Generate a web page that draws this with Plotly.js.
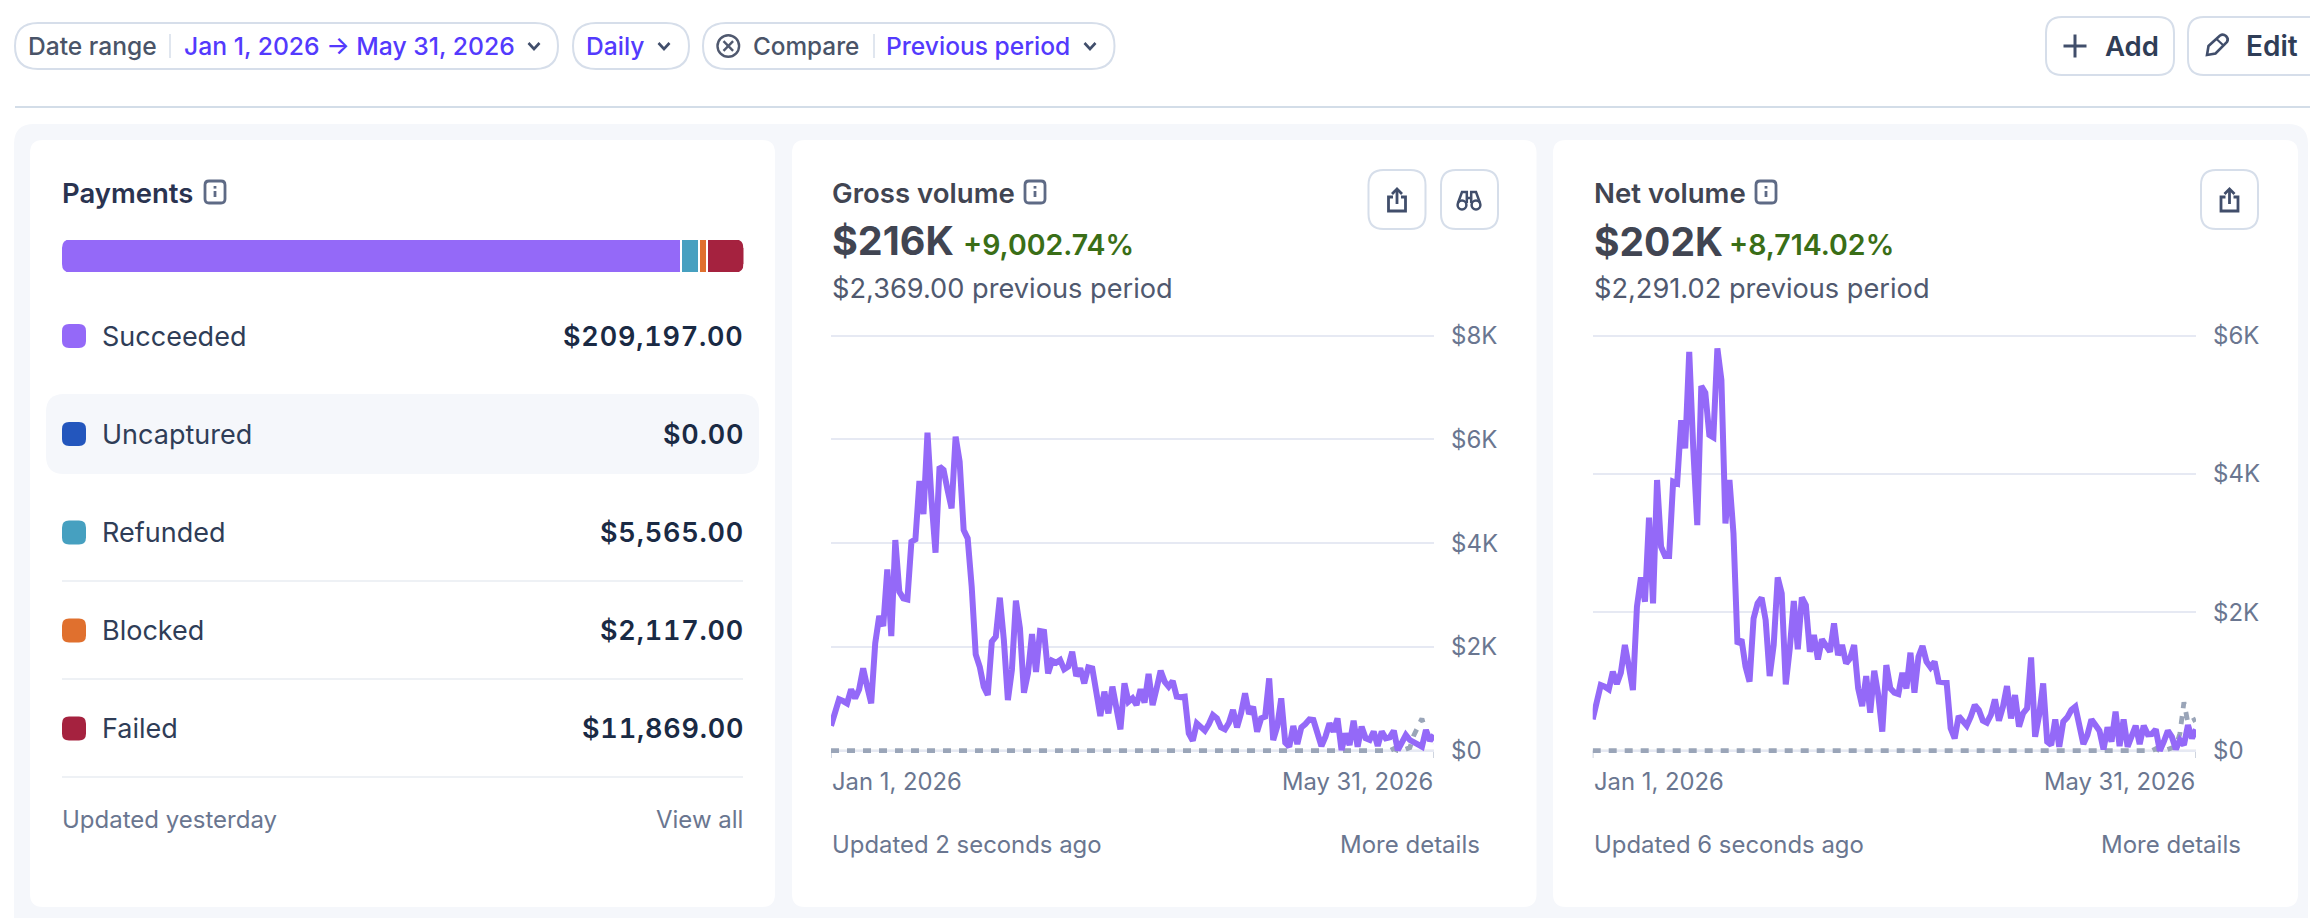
<!DOCTYPE html>
<html>
<head>
<meta charset="utf-8">
<script src="https://cdn.plot.ly/plotly-3.0.1.min.js"></script>
<style>html,body{margin:0;padding:0;background:#fff;overflow:hidden}#chart{width:2310px;height:918px}</style>
</head>
<body>
<div id="chart"></div>
<script>
// ---- data ----
const paymentStatuses = ['Succeeded', 'Uncaptured', 'Refunded', 'Blocked', 'Failed'];
const paymentValues = [209197, 0, 5565, 2117, 11869];
const paymentLabels = ['$209,197.00', '$0.00', '$5,565.00', '$2,117.00', '$11,869.00'];
const paymentColors = ['#9469f8', '#2356bd', '#46a0c0', '#e0702e', '#a5223f'];

const grossCurrent = [
  480,720,990,957,912,1182,1009,1182,1587,1234,
  912,2069,2596,2403,3496,2210,4061,3065,2937,2917,
  4029,4074,5199,4562,6130,4832,3817,5475,5411,5025,
  4672,6053,5571,4254,4093,3161,1857,1619,1234,1073,
  2101,2198,2950,2133,977,1555,2892,2358,1118,1491,
  2249,1517,2307,2294,1491,1735,1696,1748,1568,1619,
  1909,1439,1587,1298,1607,1587,1041,668,1138,720,
  1235,836,412,1299,945,1010,881,1183,926,1479,
  881,1202,1543,1331,1235,1344,1042,1029,1042,334,
  193,527,450,386,514,688,624,450,412,540,
  784,450,720,1106,707,849,367,624,656,1395,
  206,463,1010,154,77,476,129,450,514,604,
  592,334,90,270,527,367,624,13,334,109,
  579,77,463,238,206,367,90,367,238,257,
  386,10,141,302,206,161,141,77,399,193,
  302
];
const grossPrevious = [
  0,0,0,0,0,0,0,0,0,0, 0,0,0,0,0,0,0,0,0,0,
  0,0,0,0,0,0,0,0,0,0, 0,0,0,0,0,0,0,0,0,0,
  0,0,0,0,0,0,0,0,0,0, 0,0,0,0,0,0,0,0,0,0,
  0,0,0,0,0,0,0,0,0,0, 0,0,0,0,0,0,0,0,0,0,
  0,0,0,0,0,0,0,0,0,0, 0,0,0,0,0,0,0,0,0,0,
  0,0,0,0,0,0,0,0,0,0, 0,0,0,0,0,0,0,0,0,0,
  0,0,0,0,0,0,0,0,0,0, 0,0,0,0,0,0,0,0,0,0,
  40,0,0,30,60,300,450,620,350,200,150
];
const netCurrent = [
  453,684,949,925,887,1142,964,1128,1528,1214,
  877,2082,2506,2154,3368,2130,3913,2949,2814,2814,
  3889,3865,4780,4371,5768,4371,3262,5272,5176,4564,
  4530,5816,5359,3287,3913,3142,1542,1610,1214,998,
  1913,2130,2212,1889,1079,1528,2506,2275,959,1479,
  2164,1465,2217,2106,1431,1672,1320,1610,1528,1431,
  1841,1383,1528,1263,1335,1528,901,646,1079,549,
  1157,805,275,1238,901,839,819,1128,901,1417,
  839,1359,1513,1287,1205,1287,998,983,983,323,
  178,501,419,361,492,660,588,434,405,516,
  742,434,636,935,467,805,347,540,612,1349,
  202,516,973,130,82,453,58,419,482,588,
  636,323,96,226,453,371,289,19,337,130,
  564,67,453,58,226,361,96,361,236,241,
  308,0,130,289,202,19,154,82,371,178,
  308
];
const netPrevious = [
  0,0,0,0,0,0,0,0,0,0, 0,0,0,0,0,0,0,0,0,0,
  0,0,0,0,0,0,0,0,0,0, 0,0,0,0,0,0,0,0,0,0,
  0,0,0,0,0,0,0,0,0,0, 0,0,0,0,0,0,0,0,0,0,
  0,0,0,0,0,0,0,0,0,0, 0,0,0,0,0,0,0,0,0,0,
  0,0,0,0,0,0,0,0,0,0, 0,0,0,0,0,0,0,0,0,0,
  0,0,0,0,0,0,0,0,0,0, 0,0,0,0,0,0,0,0,0,0,
  0,0,0,0,0,0,0,0,0,0, 0,0,0,0,0,0,0,0,0,0,
  30,0,0,20,40,60,250,700,400,430,460
];
const grossTickVals = [0, 2000, 4000, 6000, 8000];
const grossTickText = ['$0', '$2K', '$4K', '$6K', '$8K'];
const netTickVals = [0, 2000, 4000, 6000];
const netTickText = ['$0', '$2K', '$4K', '$6K'];
const firstDay = '2026-01-01';
const lastDay = '2026-05-31';
const firstDayLabel = 'Jan 1, 2026';
const lastDayLabel = 'May 31, 2026';

// one label per day from the first to the last day of the range
const days = [];
for (let d = new Date(firstDay + 'T00:00:00Z'); d <= new Date(lastDay + 'T00:00:00Z'); d = new Date(d.getTime() + 864e5)) {
  days.push(d.toISOString().slice(0, 10));
}

// ---- page helpers (pixels to paper) ----
const W = 2310, H = 918;
const FONT = 'Inter, "Liberation Sans", sans-serif';
const px = v => v / W, py = v => 1 - v / H;
const annotations = [], shapes = [];

function label(text, x, y, size, color, weight, anchor) {
  annotations.push({text, x: px(anchor ? x : x - 1.5), y: py(y), xref: 'paper', yref: 'paper', showarrow: false,
    xanchor: anchor || 'left', yanchor: 'middle', borderpad: 0,
    font: {family: FONT, size, color, weight: weight || 400}});
}
function path(cmds, o) {
  const d = cmds.map(c => c[0] + c.slice(1).map((v, i) => (i % 2 ? py(v) : px(v)).toFixed(6)).join(',')).join(' ');
  shapes.push({type: 'path', path: d, xref: 'paper', yref: 'paper', layer: o.layer || 'below',
    fillcolor: o.fill || 'rgba(0,0,0,0)',
    line: {color: o.stroke || 'rgba(0,0,0,0)', width: o.stroke ? (o.width || 2) : 0}});
}
function rrect(x0, y0, x1, y1, r, o) {
  path([['M', x0 + r, y0], ['L', x1 - r, y0], ['Q', x1, y0, x1, y0 + r], ['L', x1, y1 - r], ['Q', x1, y1, x1 - r, y1],
    ['L', x0 + r, y1], ['Q', x0, y1, x0, y1 - r], ['L', x0, y0 + r], ['Q', x0, y0, x0 + r, y0], ['Z']], o);
}
function circle(cx, cy, r, o) {
  const k = r * 0.5523;
  path([['M', cx + r, cy], ['C', cx + r, cy + k, cx + k, cy + r, cx, cy + r], ['C', cx - k, cy + r, cx - r, cy + k, cx - r, cy],
    ['C', cx - r, cy - k, cx - k, cy - r, cx, cy - r], ['C', cx + k, cy - r, cx + r, cy - k, cx + r, cy], ['Z']], o);
}
function line(x0, y0, x1, y1, color, width) {
  shapes.push({type: 'line', x0: px(x0), x1: px(x1), y0: py(y0), y1: py(y1), xref: 'paper', yref: 'paper', layer: 'below',
    line: {color, width}});
}
const ICON = '#414e6b', BORDER = '#d6deea', INK = '#414552', MUTED = '#6a7690', BLUE = '#533afd', GREEN = '#3a6e17';

function chevron(cx, cy) {
  path([['M', cx - 5.5, cy - 3], ['L', cx, cy + 3], ['L', cx + 5.5, cy - 3]], {stroke: ICON, width: 2.6});
}
function infoIcon(cx, cy) {
  rrect(cx - 10, cy - 11, cx + 10, cy + 11, 4, {stroke: '#5e6a85', width: 2.8});
  line(cx, cy - 1, cx, cy + 5, '#5e6a85', 2.8);
  line(cx, cy - 6, cx, cy - 3.4, '#5e6a85', 2.8);
}
function shareIcon(bx) {
  rrect(bx, 170, bx + 57, 229, 15, {stroke: BORDER, width: 2, fill: '#fff'});
  const c = bx + 28.5;
  path([['M', c - 4, 197], ['L', c - 8.5, 197], ['L', c - 8.5, 211], ['L', c + 8.5, 211], ['L', c + 8.5, 197], ['L', c + 4, 197]], {stroke: ICON, width: 2.8});
  line(c, 204, c, 189, ICON, 2.8);
  path([['M', c - 5, 194], ['L', c, 189], ['L', c + 5, 194]], {stroke: ICON, width: 2.8});
}
function binocularsIcon(bx) {
  rrect(bx, 170, bx + 57, 229, 15, {stroke: BORDER, width: 2, fill: '#fff'});
  const c = bx + 28;
  circle(c - 7, 205, 4.4, {stroke: ICON, width: 2.5});
  circle(c + 7, 205, 4.4, {stroke: ICON, width: 2.5});
  path([['M', c - 11, 203], ['L', c - 7, 192], ['L', c - 2.2, 192], ['L', c - 2.2, 203]], {stroke: ICON, width: 2.5});
  path([['M', c + 11, 203], ['L', c + 7, 192], ['L', c + 2.2, 192], ['L', c + 2.2, 203]], {stroke: ICON, width: 2.5});
  line(c - 2.2, 198, c + 2.2, 198, ICON, 2.5);
}

// ---- page frame ----
path([['M', 14, 918], ['L', 14, 144], ['Q', 14, 124, 34, 124], ['L', 2288, 124], ['Q', 2308, 124, 2308, 144], ['L', 2308, 918], ['Z']], {fill: '#f5f7fb'});
rrect(30, 140, 775, 907, 13, {fill: '#fff'});
rrect(792, 140, 1536.5, 907, 13, {fill: '#fff'});
rrect(1553, 140, 2298, 907, 13, {fill: '#fff'});
line(15, 107, 2310, 107, '#d3dde8', 2);

// filter pills
rrect(15, 23, 558, 69, 23, {stroke: BORDER, width: 2, fill: '#fff'});
rrect(573, 23, 689, 69, 23, {stroke: BORDER, width: 2, fill: '#fff'});
rrect(703, 23, 1114.5, 69, 23, {stroke: BORDER, width: 2, fill: '#fff'});
label('Date range', 28, 46, 24.6, '#4a5468', 500);
line(170, 34, 170, 58, BORDER, 1.5);
label('Jan 1, 2026 → May 31, 2026', 184, 46, 24.7, BLUE, 500);
chevron(534, 46);
label('Daily', 586, 46, 24.6, BLUE, 500);
chevron(664, 46);
circle(728.3, 46, 10.8, {stroke: '#50596f', width: 2.4});
line(723.5, 41.2, 733.1, 50.8, '#50596f', 2.4);
line(733.1, 41.2, 723.5, 50.8, '#50596f', 2.4);
label('Compare', 753, 46, 24.3, '#4a5468', 500);
line(874, 34, 874, 58, BORDER, 1.5);
label('Previous period', 886, 46, 24.6, BLUE, 500);
chevron(1090, 46);

// top right buttons
rrect(2046, 17, 2174, 75, 16, {stroke: BORDER, width: 2, fill: '#fff'});
line(2063.5, 46, 2086.5, 46, ICON, 3);
line(2075, 34.5, 2075, 57.5, ICON, 3);
label('Add', 2105, 46, 27.5, '#2f3d57', 600);
rrect(2188, 17, 2330, 75, 16, {stroke: BORDER, width: 2, fill: '#fff'});
path([['M', 2207, 55], ['L', 2208.5, 46], ['L', 2220, 35.5], ['Q', 2223, 33.5, 2226, 36], ['Q', 2229, 39, 2227, 42], ['L', 2215.5, 53.5], ['Z']], {stroke: ICON, width: 2.6});
line(2216.5, 39, 2223.5, 45.5, ICON, 2.2);
label('Edit', 2246, 46, 28, '#2f3d57', 600);

// payments card
label('Payments', 62, 192.5, 27.5, '#2a3350', 600);
infoIcon(215, 192);
rrect(46, 394, 759, 474, 18, {fill: '#f5f7fb'});
const rowY = [336, 434, 532.5, 630.5, 728.5];
paymentStatuses.forEach((s, i) => {
  rrect(62, rowY[i] - 12, 86, rowY[i] + 12, 7, {fill: paymentColors[i]});
  label(s, 102.5, rowY[i], 27, '#2f3d57', 400);
  label('<span style="letter-spacing:0.8px;font-feature-settings:\'tnum\'">' + paymentLabels[i] + '</span>', 744.5, rowY[i], 27, '#1a2a44', 600, 'right');
});
[581, 679, 777].forEach(y => line(62, y, 743, y, '#eef1f5', 2));
label('Updated yesterday', 62, 819, 24, MUTED, 400);
label('View all', 743.5, 819, 24, MUTED, 400, 'right');

// gross card
label('Gross volume', 832, 192.5, 27.6, INK, 600);
infoIcon(1035, 192);
label('$216K', 832, 241, 39.5, INK, 700);
label('+9,002.74%', 963, 245, 28.5, GREEN, 600);
label('$2,369.00 previous period', 832, 288, 27.2, '#50596f', 400);
shareIcon(1368.5);
binocularsIcon(1441);
label('Updated 2 seconds ago', 832, 844, 23.9, MUTED, 400);
label('More details', 1480.5, 844, 24, MUTED, 400, 'right');

// net card
label('Net volume', 1594, 192.5, 27.6, INK, 600);
infoIcon(1766, 192);
label('$202K', 1594, 241, 39, INK, 700);
label('+8,714.02%', 1729, 245, 28.5, GREEN, 600);
label('$2,291.02 previous period', 1594, 288, 27.2, '#50596f', 400);
shareIcon(2201);
label('Updated 6 seconds ago', 1594, 844, 23.9, MUTED, 400);
label('More details', 2242, 844, 24, MUTED, 400, 'right');

// x end labels, baseline and end ticks follow each chart's axes
[['x', 'y'], ['x2', 'y2']].forEach(([xr, yr]) => {
  annotations.push({text: firstDayLabel, x: firstDay, y: py(781.5), xref: xr, yref: 'paper', showarrow: false, xanchor: 'left', yanchor: 'middle', borderpad: 0, font: {family: FONT, size: 23.8, color: MUTED}});
  annotations.push({text: lastDayLabel, x: lastDay, y: py(781.5), xref: xr, yref: 'paper', showarrow: false, xanchor: 'right', yanchor: 'middle', borderpad: 0, font: {family: FONT, size: 23.8, color: MUTED}});
  shapes.push({type: 'line', xref: xr, yref: yr, x0: firstDay, x1: lastDay, y0: 0, y1: 0, layer: 'below', line: {color: '#c3cbd8', width: 2}});
  [firstDay, lastDay].forEach(d => shapes.push({type: 'line', xref: xr, yref: 'paper', x0: d, x1: d, y0: py(750.7), y1: py(758), layer: 'below', line: {color: '#c3cbd8', width: 1.6}}));
});

// ---- traces ----
const cur = (y, xa, ya, name) => ({type: 'scatter', mode: 'lines', name, x: days, y, xaxis: xa, yaxis: ya, cliponaxis: false, hoverinfo: 'skip',
  line: {color: '#9469f8', width: 6, shape: 'linear'}});
const prev = (y, xa, ya, name) => ({type: 'scatter', mode: 'lines', name, x: days, y, xaxis: xa, yaxis: ya, cliponaxis: false, hoverinfo: 'skip',
  line: {color: '#9aa5b8', width: 4.8, dash: '8px,8px'}});
const traces = [
  prev(grossPrevious, 'x', 'y', 'Gross previous'), cur(grossCurrent, 'x', 'y', 'Gross volume'),
  prev(netPrevious, 'x2', 'y2', 'Net previous'), cur(netCurrent, 'x2', 'y2', 'Net volume')
];
// stacked bar: a transparent spacer of about 2px separates the visible segments
const total = paymentValues.reduce((a, b) => a + b, 0);
const spacer = total * 2 / 681;
let spacers = 0;
paymentStatuses.forEach((s, i) => {
  if (i > 0 && paymentValues[i] > 0) {
    traces.push({type: 'bar', orientation: 'h', name: 'gap', x: [spacer], y: ['Payments'], xaxis: 'x3', yaxis: 'y3', hoverinfo: 'skip', marker: {color: 'rgba(0,0,0,0)'}});
    spacers++;
  }
  traces.push({type: 'bar', orientation: 'h', name: s, x: [paymentValues[i]], y: ['Payments'], xaxis: 'x3', yaxis: 'y3', hoverinfo: 'skip', marker: {color: paymentColors[i], line: {width: 0}}});
});
// rounded ends of the bar
path([['M', 61, 239], ['L', 70, 239], ['Q', 62, 240, 62, 248], ['L', 61, 248], ['Z']], {fill: '#fff', layer: 'above'});
path([['M', 61, 273], ['L', 70, 273], ['Q', 62, 272, 62, 264], ['L', 61, 264], ['Z']], {fill: '#fff', layer: 'above'});
path([['M', 744.5, 239], ['L', 735.5, 239], ['Q', 743.5, 240, 743.5, 248], ['L', 744.5, 248], ['Z']], {fill: '#fff', layer: 'above'});
path([['M', 744.5, 273], ['L', 735.5, 273], ['Q', 743.5, 272, 743.5, 264], ['L', 744.5, 264], ['Z']], {fill: '#fff', layer: 'above'});

const xAxis = (x0, x1) => ({type: 'date', domain: [px(x0), px(x1)], range: [firstDay, lastDay], ticks: '', showticklabels: false, showgrid: false, zeroline: false,
  showline: false, layer: 'below traces', fixedrange: true});
// the plot area reaches a little past the top tick and the zero line so that the
// top gridline stays drawn and the thick lines are not clipped along the baseline
const yAxis = (anchor, vals, text, top) => ({domain: [py(757.7), py(325.7)], range: [-top * 7 / 415, top * 425 / 415], anchor, side: 'right', tickmode: 'array', tickvals: vals, ticktext: text,
  tickfont: {family: FONT, size: 24, color: MUTED}, ticks: '', ticklabelstandoff: 16, showgrid: true, gridcolor: '#e6e9f3', gridwidth: 2, zeroline: false, showline: false, layer: 'below traces', fixedrange: true});

const layout = {
  width: W, height: H, margin: {l: 0, r: 0, t: 0, b: 0, pad: 0}, paper_bgcolor: '#ffffff', plot_bgcolor: 'rgba(0,0,0,0)',
  showlegend: false, barmode: 'stack', bargap: 0, font: {family: FONT},
  xaxis: xAxis(831, 1434), yaxis: yAxis('x', grossTickVals, grossTickText, 8000),
  xaxis2: xAxis(1592.7, 2196), yaxis2: yAxis('x2', netTickVals, netTickText, 6000),
  xaxis3: {domain: [px(62), px(743.5)], range: [0, total + spacers * spacer], visible: false, fixedrange: true},
  yaxis3: {domain: [py(272), py(240)], anchor: 'x3', type: 'category', visible: false, fixedrange: true},
  shapes, annotations
};
Plotly.newPlot('chart', traces, layout, {displayModeBar: false, responsive: false});
</script>
</body>
</html>
